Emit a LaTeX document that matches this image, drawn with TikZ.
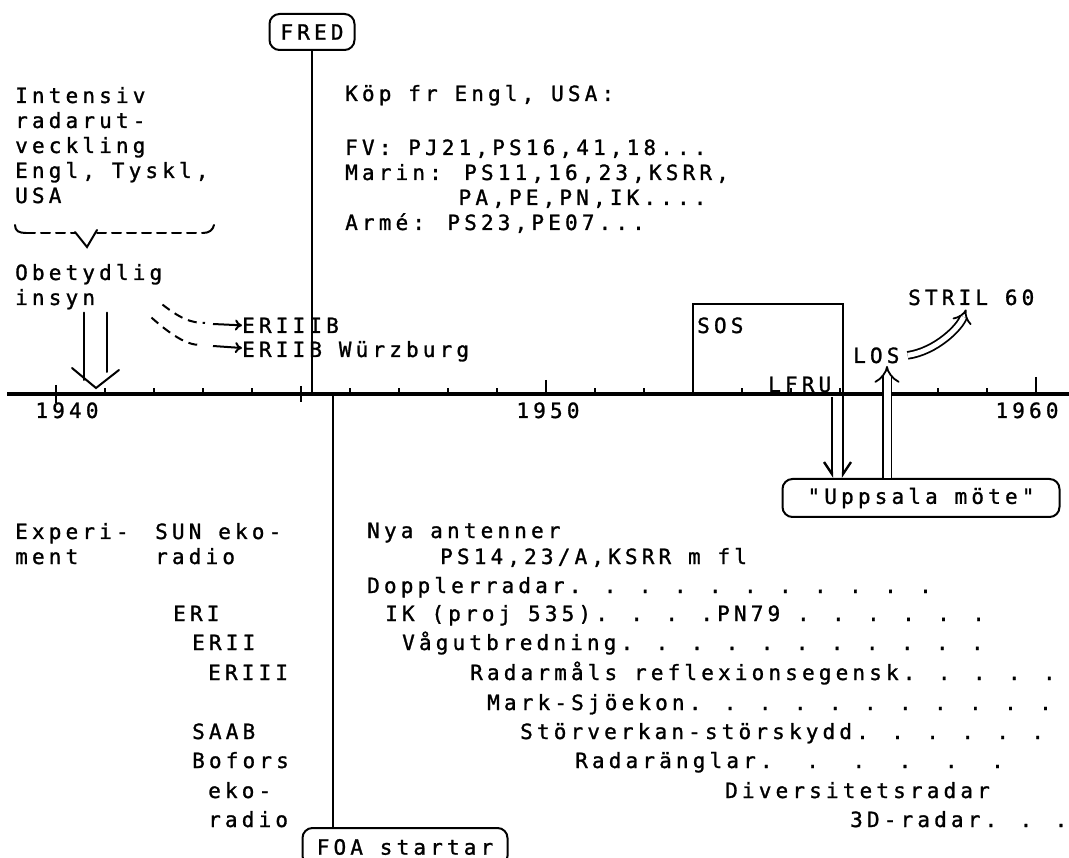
\documentclass[tikz,border=0pt]{standalone}
\usepackage{fontspec}
\newfontfamily\dotfont[LetterSpace=19.8, FakeBold=1.2]{DejaVu Sans Mono}
\usetikzlibrary{arrows.meta,calc}
\tikzset{
  txt/.style    = {anchor=base west, inner sep=0pt,
                   font=\dotfont\fontsize{21}{25}\selectfont},
  yr/.style     = {txt, anchor=base},
  tag/.style    = {draw, line width=2pt, rounded corners=10pt, inner sep=0pt,
                   minimum height=36pt, font=\dotfont\fontsize{21}{25}\selectfont},
  axis/.style   = {line width=3.2pt},
  tick/.style   = {line width=2pt},
  e/.style      = {line width=2.4pt},
  thinl/.style  = {line width=1.3pt},
  brc/.style    = {line width=2pt, line cap=round},
  dsh/.style    = {line width=2pt, dash pattern=on 9pt off 6pt},
  arr/.style    = {line width=2pt, -{To[length=7pt, width=11pt]}},
  hollow/.style = {double, double distance=#1, line width=1.8pt}
}
\begin{document}
\begin{tikzpicture}[x=1pt, y=-1pt]
  \useasboundingbox (0,0) rectangle (1069,858);

  % time axis
  \coordinate (axL) at (7,394);
  \coordinate (axR) at (1069,394);
  \draw[axis] (axL) -- (axR);
  \foreach \k in {0,...,20}
    \draw[tick] ({56+49*\k},394) -- ++(0,-6);
  \draw[tick] (56,385) -- (56,403);
  \draw[tick] (301,386) -- (301,402);
  \draw[tick] (546,380) -- (546,394);
  \draw[tick] (1036,377) -- (1036,394);
  \node[yr] (y40) at (67,418) {1940};
  \node[yr] (y50) at (548,418) {1950};
  \node[yr] (y60) at (1027,418) {1960};

  % upper half
  \node[tag, minimum width=85pt] (fred) at (312,32) {FRED};
  \draw[e] (fred.south) -- (fred.south |- axL);

  \node[txt, align=left] (intens) at (15,203)
    {Intensiv\\radarut-\\veckling\\Engl, Tyskl,\\USA};
  \draw[brc] (15,225) .. controls (15,231) and (19,233) .. (26,233);
  \draw[brc, dsh] (26,233) -- (75,233);
  \draw[brc] (75,232) -- (87,247) -- (97,230);
  \draw[brc, dsh] (97,233) -- (203,233);
  \draw[brc] (203,233) .. controls (209,233) and (213,230) .. (214,225);

  \node[txt, align=left] (insyn) at (15,305) {Obetydlig\\insyn};
  \coordinate (tip41) at (96,388);
  \draw[brc] ($(tip41 |- insyn.south)+(-12,3)$) -- ($(tip41)+(-12,-8)$);
  \draw[brc] ($(tip41 |- insyn.south)+(11,3)$) -- ($(tip41)+(11,-16)$);
  \draw[brc] ($(tip41)+(-24,-20)$) -- (tip41) -- ($(tip41)+(23,-18)$);

  \node[txt] (eriiib) at (242,333) {ERIIIB};
  \node[txt] (eriib) at (242,357) {ERIIB Würzburg};
  \coordinate (d1) at (205,323);
  \coordinate (d2) at (200,345);
  \draw[dsh] ($(insyn.south east)+(0,-5)$) .. controls +(18,14) and +(-14,0) .. (d1);
  \draw[arr] ($(d1)+(8,1)$) -- (eriiib.west);
  \draw[dsh] ($(insyn.south east)+(-11,8)$) .. controls +(18,16) and +(-14,0) .. (d2);
  \draw[arr] ($(d2)+(13,1)$) -- ($(eriib.base west)+(0,-9)$);

  \node[txt, align=left] (kop) at (345,230)
    {Köp fr Engl, USA:\\[29pt]
     FV: PJ21,PS16,41,18...\\
     Marin: PS11,16,23,KSRR,\\
     \phantom{Marin:~}PA,PE,PN,IK....\\
     Armé: PS23,PE07...};

  \coordinate (sosL) at (693,394);
  \coordinate (sosR) at (843,304);
  \node[txt] (sos) at (697,333) {SOS};
  \node[txt] (lfru) at (768,392) {LFRU};
  \node[txt] (los) at (853,363) {LOS};
  \node[txt] (stril) at (908,305) {STRIL 60};

  \node[tag, minimum width=277pt, minimum height=38pt] (upp) at (921,498) {"Uppsala möte"};
  \draw[e, -{Straight Barb[left, length=12pt, width=16pt]}] (sosL) |- (sosR) -- (sosR |- upp.north);
  \coordinate (lfruEnd) at (832,397);
  \draw[e, -{Straight Barb[right, length=12pt, width=16pt]}] (lfruEnd) -- (lfruEnd |- upp.north);
  \coordinate (losTip) at (887,366);
  \draw[hollow=7pt, -{Implies[length=12pt, width=26pt]}] (losTip |- upp.north) -- (losTip);
  \draw[hollow=5pt, -{Implies[length=10pt, width=22pt]}]
    ($(los.east)+(8,0)$) .. controls +(28,-4) and +(-6,18) .. ($(stril.south west)+(58,4)$);

  % lower half
  \node[tag, minimum width=205pt, minimum height=38pt] (foa) at (405,847) {FOA startar};
  \coordinate (foaX) at (333,394);
  \draw[thinl] (foaX) -- (foaX |- foa.north);

  \node[txt, align=left] (exper) at (15,564) {Experi-\\ment};
  \node[txt, align=left] (sun) at (155,564) {SUN eko-\\radio};
  \foreach \n/\x/\y/\t in {eri/173/621/ERI, erii/192/650/ERII, eriii/208/680/ERIII,
      saab/192/739/SAAB, bofors/192/768/Bofors, eko/208/798/eko-, radio/208/827/radio}
    \node[txt] (\n) at (\x,\y) {\t};

  \foreach \n/\x/\y/\t in {
      nya/367/538/{Nya antenner},
      ps/440/564/{PS14,23/A,KSRR m fl},
      dop/367/593/{Dopplerradar. . . . . . . . . . .},
      ik/385/621/{IK (proj 535). . . .PN79 . . . . . .},
      vag/402/650/{Vågutbredning. . . . . . . . . . .},
      refl/470/680/{Radarmåls reflexionsegensk. . . . .},
      mark/487/710/{Mark-Sjöekon. . . . . . . . . . .},
      stor/520/739/{Störverkan-störskydd. . . . . .},
      angl/575/768/{Radaränglar.~~.~~.~~.~~.~~.},
      div/725/798/{Diversitetsradar},
      tred/850/827/{3D-radar. . .}}
    \node[txt] (\n) at (\x,\y) {\t};
\end{tikzpicture}
\end{document}
